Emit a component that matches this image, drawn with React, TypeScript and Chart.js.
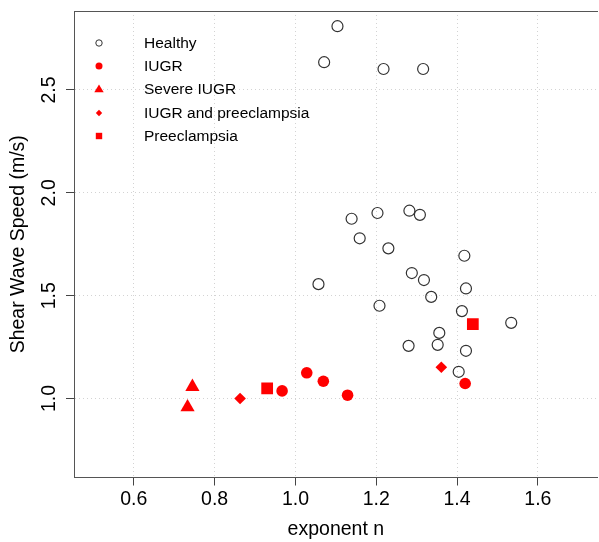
import React, { useEffect, useRef } from 'react';
import { Chart, registerables } from 'chart.js';

Chart.register(...registerables);

// ---- data ----
const seriesNames = ['Healthy', 'IUGR', 'Severe IUGR', 'IUGR and preeclampsia', 'Preeclampsia'];

const healthyN = [1.104, 1.071, 1.218, 1.316, 1.139, 1.203, 1.282, 1.308, 1.159, 1.230, 1.418, 1.288,
  1.318, 1.422, 1.057, 1.336, 1.208, 1.412, 1.534, 1.356, 1.352, 1.280, 1.422, 1.404];
const healthyV = [2.810, 2.635, 2.602, 2.602, 1.874, 1.902, 1.913, 1.893, 1.779, 1.730, 1.694, 1.610,
  1.576, 1.535, 1.556, 1.494, 1.451, 1.425, 1.368, 1.319, 1.261, 1.256, 1.232, 1.130];

const iugrN = [0.967, 1.028, 1.069, 1.129, 1.420];
const iugrV = [1.037, 1.125, 1.084, 1.016, 1.073];

const severeN = [0.733, 0.745];
const severeV = [0.958, 1.057];

const iugrPreN = [0.863, 1.361];
const iugrPreV = [1.000, 1.152];

const preN = [0.930, 1.439];
const preV = [1.049, 1.362];

const xTickValues = [0.6, 0.8, 1.0, 1.2, 1.4, 1.6];
const xTickLabels = ['0.6', '0.8', '1.0', '1.2', '1.4', '1.6'];
const yTickValues = [1.0, 1.5, 2.0, 2.5];
const yTickLabels = ['1.0', '1.5', '2.0', '2.5'];

const X_MIN = 0.452;
const X_MAX = 1.748;
const Y_MIN = 0.616;
const Y_MAX = 2.884;

const xTitle = 'exponent n';
const yTitle = 'Shear Wave Speed (m/s)';

// ---- styles ----
const RED = '#ff0000';
const FONT = "'Liberation Sans', Arial, Helvetica, sans-serif";
const AXIS_COLOR = '#555555';
const GRID_COLOR = '#d3d3d3';

const pts = (xs: number[], ys: number[]) => xs.map((x, i) => ({ x, y: ys[i] }));

function LegendSymbol({ kind }: { kind: number }) {
  const s = 12;
  const c = s / 2;
  let shape: any = null;
  if (kind === 0) shape = <circle cx={c} cy={c} r={3.2} fill="none" stroke="#333" strokeWidth={1} />;
  else if (kind === 1) shape = <circle cx={c} cy={c} r={3.5} fill={RED} />;
  else if (kind === 2) shape = <polygon points={`${c},${c - 4.6} ${c + 4.7},${c + 3.3} ${c - 4.7},${c + 3.3}`} fill={RED} />;
  else if (kind === 3) shape = <polygon points={`${c},${c - 3.2} ${c + 3.2},${c} ${c},${c + 3.2} ${c - 3.2},${c}`} fill={RED} />;
  else shape = <rect x={c - 3.2} y={c - 3.2} width={6.4} height={6.4} fill={RED} />;
  return (
    <svg width={s} height={s} style={{ position: 'absolute', left: 99 - c, top: 10 - c }}>
      {shape}
    </svg>
  );
}

export default function App() {
  const ref = useRef<HTMLCanvasElement>(null);

  useEffect(() => {
    const canvas = ref.current;
    if (!canvas) return;
    Chart.defaults.font.family = FONT;

    const gridCommon = {
      color: GRID_COLOR,
      lineWidth: 1,
      tickLength: 8,
      tickColor: '#444444',
      tickWidth: 1,
      tickBorderDash: [],
    };
    const borderCommon = { display: true, color: AXIS_COLOR, width: 1, dash: [1, 3] };

    const chart = new Chart(canvas, {
      type: 'scatter',
      data: {
        datasets: [
          {
            label: seriesNames[0],
            data: pts(healthyN, healthyV),
            pointStyle: 'circle',
            pointRadius: 5.5,
            pointHoverRadius: 5.5,
            pointBackgroundColor: 'rgba(0,0,0,0)',
            pointBorderColor: '#333333',
            pointBorderWidth: 1.2,
          },
          {
            label: seriesNames[1],
            data: pts(iugrN, iugrV),
            pointStyle: 'circle',
            pointRadius: 5.8,
            pointHoverRadius: 5.8,
            pointBackgroundColor: RED,
            pointBorderColor: RED,
            pointBorderWidth: 0,
          },
          {
            label: seriesNames[2],
            data: pts(severeN, severeV),
            pointStyle: 'triangle',
            pointRadius: 8.2,
            pointHoverRadius: 8.2,
            pointBackgroundColor: RED,
            pointBorderColor: RED,
            pointBorderWidth: 0,
          },
          {
            label: seriesNames[3],
            data: pts(iugrPreN, iugrPreV),
            pointStyle: 'rectRot',
            pointRadius: 5.8,
            pointHoverRadius: 5.8,
            pointBackgroundColor: RED,
            pointBorderColor: RED,
            pointBorderWidth: 0,
          },
          {
            label: seriesNames[4],
            data: pts(preN, preV),
            pointStyle: 'rect',
            pointRadius: 8.3,
            pointHoverRadius: 8.3,
            pointBackgroundColor: RED,
            pointBorderColor: RED,
            pointBorderWidth: 0,
          },
        ],
      },
      options: {
        responsive: false,
        animation: false,
        devicePixelRatio: 1,
        layout: { padding: { top: 11, right: 1.3, left: 0, bottom: 0 } },
        plugins: {
          legend: { display: false },
          tooltip: { enabled: false },
        },
        scales: {
          x: {
            type: 'linear',
            position: 'bottom',
            min: X_MIN,
            max: X_MAX,
            afterBuildTicks: (s: any) => {
              s.ticks = xTickValues.map((v) => ({ value: v }));
            },
            afterFit: (s: any) => {
              s.height = 64.5;
              s.paddingLeft = 0;
              s.paddingRight = 0;
            },
            ticks: {
              callback: (_v: any, i: number) => xTickLabels[i],
              font: { size: 19.5, family: FONT },
              color: '#000000',
              padding: 2.5,
              minRotation: 0,
              maxRotation: 0,
              autoSkip: false,
            },
            grid: gridCommon,
            border: borderCommon,
            title: {
              display: true,
              text: xTitle,
              font: { size: 19.5, family: FONT },
              color: '#000000',
              padding: { top: 0, bottom: 0.5 },
            },
          },
          x2: {
            type: 'linear',
            position: 'top',
            min: X_MIN,
            max: X_MAX,
            ticks: { display: false },
            grid: { display: true, drawOnChartArea: false, drawTicks: false },
            border: { display: true, color: AXIS_COLOR, width: 1 },
            afterFit: (s: any) => {
              s.height = 0;
              s.paddingLeft = 0;
              s.paddingRight = 0;
            },
          },
          y: {
            type: 'linear',
            position: 'left',
            min: Y_MIN,
            max: Y_MAX,
            afterBuildTicks: (s: any) => {
              s.ticks = yTickValues.map((v) => ({ value: v }));
            },
            afterFit: (s: any) => {
              s.width = 74;
              s.paddingTop = 0;
              s.paddingBottom = 0;
            },
            ticks: {
              callback: (_v: any, i: number) => yTickLabels[i],
              font: { size: 19.5, family: FONT },
              color: '#000000',
              padding: 3.25,
              minRotation: 90,
              maxRotation: 90,
              crossAlign: 'center',
              autoSkip: false,
            },
            grid: gridCommon,
            border: borderCommon,
            title: {
              display: true,
              text: yTitle,
              font: { size: 19.5, family: FONT },
              color: '#000000',
              padding: { top: 7, bottom: 0 },
            },
          },
        },
      } as any,
    });
    return () => chart.destroy();
  }, []);

  const legendTop = 42.7;
  const legendStep = 23.3;

  return (
    <div
      style={{
        position: 'fixed',
        left: 0,
        top: 0,
        width: 599,
        height: 542,
        overflow: 'hidden',
        background: '#ffffff',
      }}
    >
      <canvas ref={ref} width={606} height={542} style={{ display: 'block', width: 606, height: 542 }} />
      {seriesNames.map((name, i) => (
        <div
          key={name}
          style={{
            position: 'absolute',
            left: 0,
            top: legendTop + i * legendStep - 10,
            width: 400,
            height: 20,
          }}
        >
          <LegendSymbol kind={i} />
          <span
            style={{
              position: 'absolute',
              left: 144,
              top: 0,
              lineHeight: '20px',
              fontSize: 15.5,
              fontFamily: FONT,
              color: '#000',
              whiteSpace: 'nowrap',
            }}
          >
            {name}
          </span>
        </div>
      ))}
    </div>
  );
}
